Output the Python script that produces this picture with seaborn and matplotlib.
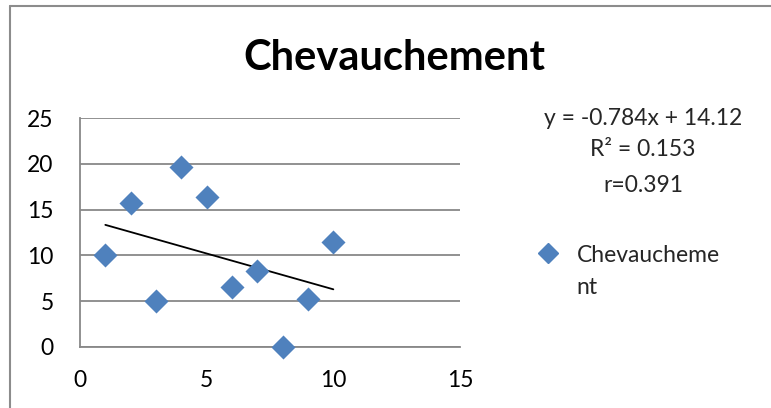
import matplotlib
matplotlib.use("Agg")
import matplotlib.pyplot as plt
from matplotlib.lines import Line2D
import seaborn as sns
import pandas as pd
import numpy as np

# Data
x_vals = [1, 2, 3, 4, 5, 6, 7, 8, 9, 10]
y_vals = [10.0, 15.76, 5.0, 19.7, 16.4, 6.57, 8.28, 0.0, 5.18, 11.46]
series_name = "Chevauchement"
slope = -0.784
intercept = 14.12
r_squared = 0.153
r_value = 0.391
x_ticks = [0, 5, 10, 15]
y_ticks = [0, 5, 10, 15, 20, 25]

df = pd.DataFrame({"x": x_vals, "y": y_vals})

sns.set_theme(style="white")
plt.rcParams["font.family"] = ["Lato", "DejaVu Sans"]

W, H = 771, 408
fig = plt.figure(figsize=(W / 100, H / 100), dpi=100)
fig.patch.set_facecolor("white")

# plot area in pixel coordinates
left, right, top, bottom = 80, 460, 118.3, 346.7
ax = fig.add_axes([left / W, 1 - bottom / H, (right - left) / W, (bottom - top) / H])
ax.set_facecolor("white")

grid_col = "#888888"
blue = "#4F81BD"
fs = 16.5

sns.scatterplot(data=df, x="x", y="y", marker="D", s=150, color=blue,
                edgecolor=blue, linewidth=0, ax=ax, zorder=3, clip_on=False,
                label=series_name)

# linear trendline over the data range
tx = np.array([min(x_vals), max(x_vals)])
ax.plot(tx, slope * tx + intercept, color="black", lw=1.3, zorder=2)

ax.set_xlim(0, 15)
ax.set_ylim(0, 25)
ax.set_xticks(x_ticks)
ax.set_yticks(y_ticks)
ax.set_xlabel("")
ax.set_ylabel("")
ax.grid(axis="y", color=grid_col, lw=1.3)
ax.set_axisbelow(True)
for s in ["top", "right"]:
    ax.spines[s].set_visible(False)
for s in ["left", "bottom"]:
    ax.spines[s].set_color(grid_col)
    ax.spines[s].set_linewidth(1.3)
ax.tick_params(axis="both", which="major", length=6, width=1.3, color=grid_col,
               direction="out", labelsize=fs, labelcolor="black")
ax.tick_params(axis="x", pad=11)
ax.tick_params(axis="y", pad=13)

# legend: the series name wraps onto a second line in the narrow legend box
ax.legend_.remove()
handle = Line2D([], [], marker="D", linestyle="none", markersize=10,
                markerfacecolor=blue, markeredgecolor=blue)
leg = fig.legend([handle], [series_name[:11]], loc="center left",
                 bbox_to_anchor=(537 / W, 1 - 255 / H), frameon=False,
                 fontsize=fs, handletextpad=0.75, handlelength=1.0,
                 borderaxespad=0, borderpad=0)
fig.text(576 / W, 1 - 287 / H, series_name[11:], ha="left", va="center",
         fontsize=fs)

# title and regression text
fig.text(394 / W, 1 - 58 / H, series_name, ha="center", va="center",
         fontsize=30, fontweight="bold", color="black")
eq_x = 643 / W
fig.text(eq_x, 1 - 118 / H, f"y = {slope}x + {intercept}", ha="center",
         va="center", fontsize=fs)
fig.text(eq_x, 1 - 150 / H, f"R² = {r_squared}", ha="center", va="center",
         fontsize=fs)
fig.text(eq_x, 1 - 186 / H, f"r={r_value}", ha="center", va="center",
         fontsize=fs)

# chart frame (top and left edges)
fig.add_artist(Line2D([10 / W, 1], [1 - 6 / H, 1 - 6 / H], color="#8c8c8c",
                      lw=1.5, transform=fig.transFigure))
fig.add_artist(Line2D([10 / W, 10 / W], [0, 1 - 6 / H], color="#8c8c8c",
                      lw=1.5, transform=fig.transFigure))

fig.savefig("out.png", dpi=100, facecolor="white")
